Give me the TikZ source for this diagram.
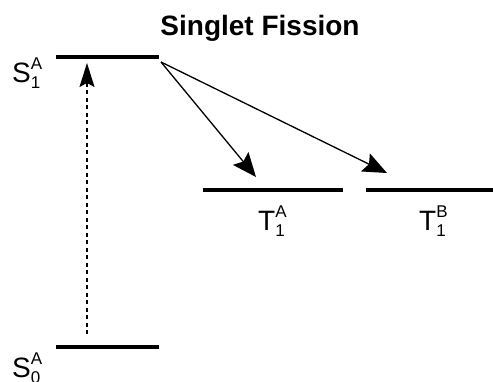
\documentclass[tikz,border=0pt]{standalone}
\usepackage{fontspec}
\setmainfont{Liberation Sans}
\usetikzlibrary{arrows.meta}
\newcommand{\lvlabel}[3]{#1\rlap{\raisebox{12.5pt}{\fontsize{17}{17}\selectfont #2}}\raisebox{-6pt}{\fontsize{17}{17}\selectfont #3}}
\tikzset{
  level/.style={line width=4pt},
  lab/.style={font=\fontsize{28}{28}\selectfont, anchor=base, inner sep=0pt},
  trans/.style={line width=1.3pt, -{Stealth[length=24pt,width=20pt,inset=4pt]}},
  excite/.style={line width=1.4pt, dash pattern=on 4pt off 3.5pt, -{Stealth[length=24pt,width=15pt,inset=4pt]}}
}
\begin{document}
\begin{tikzpicture}[x=1pt,y=-1pt]
\useasboundingbox (0,0) rectangle (493,381);
\node[lab, font=\fontsize{28}{28}\selectfont\bfseries] (title) at (260,35) {Singlet Fission};
% levels
\coordinate (s1l) at (56,57); \coordinate (s1r) at (159,57);
\coordinate (s0l) at (56,347); \coordinate (s0r) at (159,347);
\coordinate (tal) at (203,190); \coordinate (tar) at (343,190);
\coordinate (tbl) at (366,190); \coordinate (tbr) at (493,190);
\draw[level] (s1l) -- (s1r);
\draw[level] (s0l) -- (s0r);
\draw[level] (tal) -- (tar);
\draw[level] (tbl) -- (tbr);
% labels
\node[lab, anchor=base west] (S1) at (12,82) {\lvlabel{S}{A}{1}};
\node[lab, anchor=base west] (S0) at (12,377) {\lvlabel{S}{A}{0}};
\node[lab, anchor=base west] (TA) at (258,230) {\lvlabel{T}{A}{1}};
\node[lab, anchor=base west] (TB) at (419,230) {\lvlabel{T}{B}{1}};
% arrows
\coordinate (fs) at (161,62);
\coordinate (ta) at (256,177);
\coordinate (tb) at (387,173);
\coordinate (exb) at (87,334);
\coordinate (ext) at (87,63);
\draw[excite] (exb) -- (ext);
\draw[trans] (fs) -- (ta);
\draw[trans] (fs) -- (tb);
\end{tikzpicture}
\end{document}
